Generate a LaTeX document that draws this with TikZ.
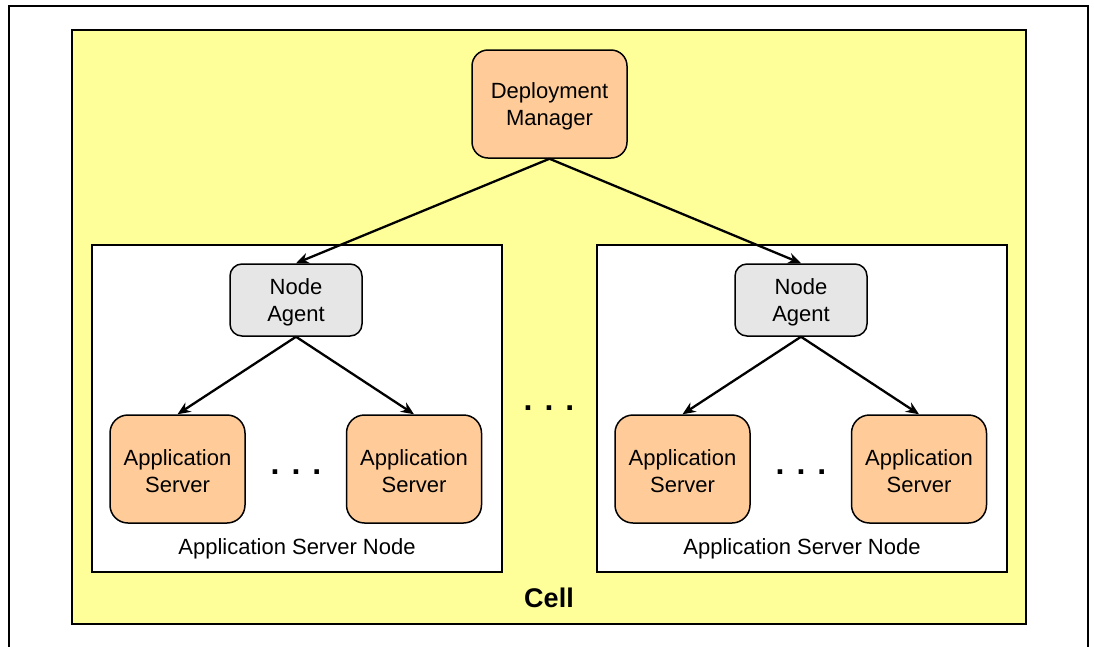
\documentclass[tikz,border=0pt]{standalone}
\usepackage{fontspec}
\setmainfont{Liberation Sans}
\usetikzlibrary{arrows.meta}
\definecolor{cellyellow}{HTML}{FFFF99}
\definecolor{serverorange}{HTML}{FFCC99}
\definecolor{agentgray}{HTML}{E6E6E6}
\tikzset{
  box/.style={draw=black,line width=1.5pt,align=center,inner sep=0pt,
    font=\fontsize{22}{27}\selectfont},
  manager/.style={box,fill=serverorange,minimum width=155pt,minimum height=108pt,rounded corners=16pt},
  agent/.style={box,fill=agentgray,minimum width=132pt,minimum height=72pt,rounded corners=12pt},
  appserver/.style={box,fill=serverorange,minimum width=135pt,minimum height=108pt,rounded corners=18pt},
  link/.style={line width=2.3pt,-{Stealth[length=13pt,width=11pt]}},
  dots/.style={font=\fontsize{32}{32}\selectfont\bfseries,inner sep=0pt}
}
\begin{document}
\begin{tikzpicture}[x=1pt,y=-1pt]
  \useasboundingbox (0,0) rectangle (1094,646);
  \draw[line width=1.5pt] (9,660) -- (9,6) -- (1088,6) -- (1088,660);
  \draw[line width=1.5pt,fill=cellyellow] (72,30) rectangle (1026,624);
  \node[font=\fontsize{27}{27}\selectfont\bfseries] (cell) at (549,598) {Cell};

  \node[manager] (dm) at (549.5,104) {\rule{0pt}{20pt}Deployment\\Manager};

  \foreach \s/\dx in {l/0,r/505}
  {
    \draw[line width=1.5pt,fill=white] (92+\dx,245) rectangle (502+\dx,572);
    \node[font=\fontsize{22}{27}\selectfont] (asn\s) at (297+\dx,549) {Application Server Node};
    \node[agent] (na\s) at (296+\dx,300) {\rule{0pt}{20pt}Node\\Agent};
    \node[appserver] (as\s1) at (177.5+\dx,469) {\rule{0pt}{20pt}Application\\Server};
    \node[appserver] (as\s2) at (414+\dx,469) {\rule{0pt}{20pt}Application\\Server};
    \node[dots] (dots\s) at (296+\dx,472) {.\hspace{12pt}.\hspace{12pt}.};
    \draw[link] (dm.south) -- (na\s.north);
    \draw[link] (na\s.south) -- (as\s1.north);
    \draw[link] (na\s.south) -- (as\s2.north);
  }
  \node[dots] (dotsm) at (549,408) {.\hspace{12pt}.\hspace{12pt}.};
\end{tikzpicture}
\end{document}
